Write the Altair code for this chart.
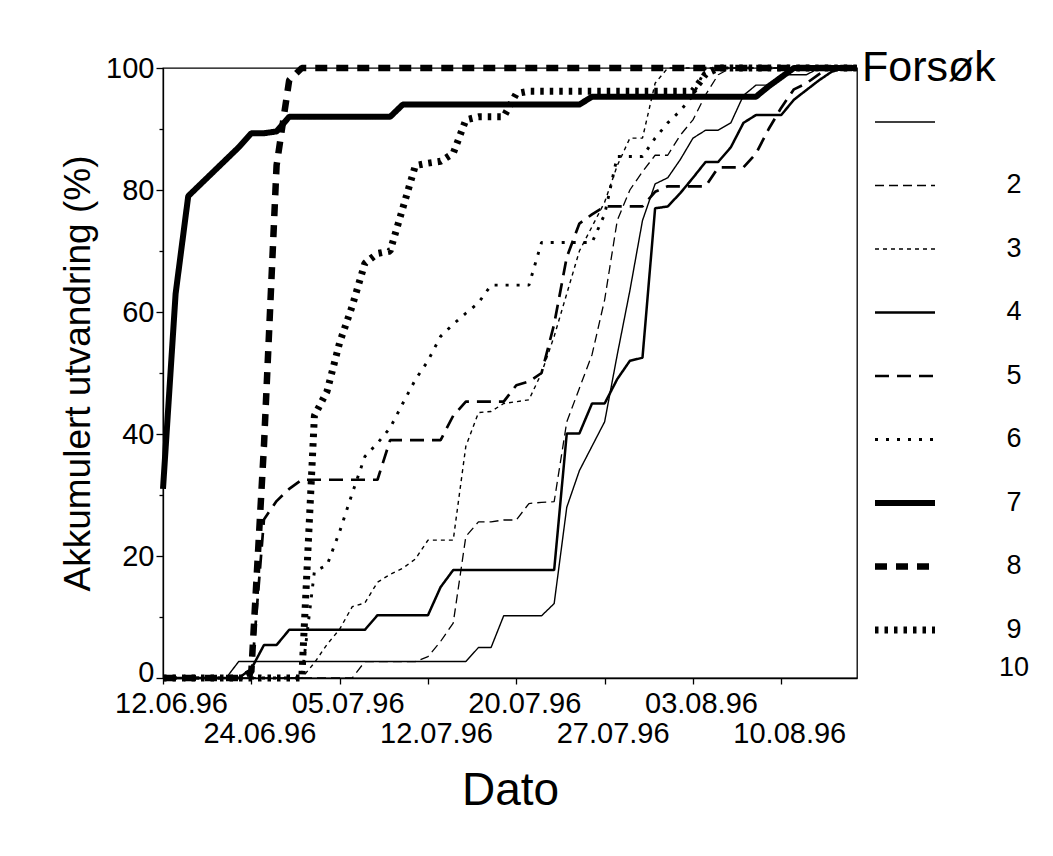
import altair as alt
import pandas as pd

# ---- data ----------------------------------------------------------------
# x: sampling occasion number (equally spaced categories on the original axis)
sample_index = list(range(56))
tick_index = [0, 7, 14, 21, 28, 35, 42, 49]
tick_labels = ["12.06.96", "24.06.96", "05.07.96", "12.07.96",
               "20.07.96", "27.07.96", "03.08.96", "10.08.96"]

series_names = ["2", "3", "4", "5", "6", "7", "8", "9", "10"]

forsok_2 = [0, 0, 0, 0, 0, 0, 2.7, 2.7, 2.7, 2.7, 2.7, 2.7, 2.7, 2.7,
            2.7, 2.7, 2.7, 2.7, 2.7, 2.7, 2.7, 2.7, 2.7, 2.7, 2.7, 5, 5, 10.2,
            10.2, 10.2, 10.2, 12.2, 28, 34, 38, 42, 53, 63.5, 75, 81, 82, 85,
            88.5, 89.8, 89.8, 91, 95.5, 97.2, 97.2, 98.9, 98.9, 98.9, 100, 100, 100, 100]
forsok_3 = [0, 0, 0, 0, 0, 0, 0, 0, 0, 0, 0, 0, 0, 0,
            0, 0, 2.7, 2.7, 2.7, 2.7, 2.7, 3.5, 6, 9, 23.2, 25.6, 25.6, 25.9,
            25.9, 28.6, 28.8, 28.9, 42, 47.5, 53, 62, 75, 80, 83, 85.7, 85.7, 89,
            91.5, 95.6, 98.9, 100, 100, 100, 100, 100, 100, 100, 100, 100, 100, 100]
forsok_4 = [0, 0, 0, 0, 0, 0, 0, 0, 0, 0, 0, 0, 2.5, 5.5,
            8, 11.7, 12.3, 15.7, 17, 18, 19.5, 22.6, 22.6, 22.6, 38, 43.5, 43.7, 45,
            45.3, 45.6, 50, 56, 63, 70, 74, 78, 84, 88.5, 88.5, 97.5, 100, 100,
            100, 100, 100, 100, 100, 100, 100, 100, 100, 100, 100, 100, 100, 100]
forsok_5 = [0, 0, 0, 0, 0, 0, 0, 1.5, 5.4, 5.4, 7.9, 7.9, 7.9, 7.9,
            7.9, 7.9, 7.9, 10.3, 10.3, 10.3, 10.3, 10.3, 14.9, 17.7, 17.7, 17.7, 17.7, 17.7,
            17.7, 17.7, 17.7, 17.7, 40.1, 40.1, 45, 45, 49, 52, 52.5, 77, 77.3, 79.5,
            82, 84.6, 84.6, 87, 91, 92.3, 92.3, 92.3, 94.8, 96.4, 98, 99.4, 100, 100]
forsok_6 = [0, 0, 0, 0, 0, 0, 0, 0, 26, 29, 31, 32.5, 32.5, 32.5,
            32.5, 32.5, 32.5, 32.5, 39, 39, 39, 39, 39, 43, 45.3, 45.3, 45.3, 45.3,
            48, 48.6, 50, 58, 69, 74.5, 76, 77.3, 77.3, 77.3, 77.3, 79.7, 80.6, 80.6,
            80.6, 80.6, 83.7, 83.7, 83.7, 86, 90, 93.5, 96.5, 97.5, 99, 100, 100, 100]
forsok_7 = [0, 0, 0, 0, 0, 0, 0, 0, 0, 0, 0, 0, 17.5, 18.5,
            24, 30.3, 36.3, 38.5, 41, 45, 48.9, 52, 56, 58, 59.8, 61.5, 64.4, 64.4,
            64.4, 64.4, 71.4, 71.4, 71.4, 71.4, 71.4, 76, 85.5, 85.5, 85.5, 88.5, 91, 93,
            95.5, 100, 100, 100, 100, 100, 100, 100, 100, 100, 100, 100, 100, 100]
forsok_8 = [31, 63, 79, 81, 83, 85, 87, 89.3, 89.3, 89.6, 92, 92, 92, 92,
            92, 92, 92, 92, 92, 94, 94, 94, 94, 94, 94, 94, 94, 94,
            94, 94, 94, 94, 94, 94, 95.3, 95.3, 95.3, 95.3, 95.3, 95.3, 95.3, 95.3,
            95.3, 95.3, 95.3, 95.3, 95.3, 95.3, 97, 98.5, 100, 100, 100, 100, 100, 100]
forsok_9 = [0, 0, 0, 0, 0, 0, 0, 1, 38, 84, 98, 100, 100, 100,
            100, 100, 100, 100, 100, 100, 100, 100, 100, 100, 100, 100, 100, 100,
            100, 100, 100, 100, 100, 100, 100, 100, 100, 100, 100, 100, 100, 100,
            100, 100, 100, 100, 100, 100, 100, 100, 100, 100, 100, 100, 100, 100]
forsok_10 = [0, 0, 0, 0, 0, 0, 0, 0, 0, 0, 0, 0, 43, 47,
             55, 61, 68, 69.6, 70, 77, 84, 84.4, 84.7, 86, 91.5, 92, 92, 92,
             95.8, 96.2, 96.2, 96.2, 96.2, 96.2, 96.2, 96.2, 96.2, 96.2, 96.2, 96.2, 96.2, 96.2,
             96.2, 99, 100, 100, 100, 100, 100, 100, 100, 100, 100, 100, 100, 100]

series_values = [forsok_2, forsok_3, forsok_4, forsok_5, forsok_6,
                 forsok_7, forsok_8, forsok_9, forsok_10]

# ---- styles -----------------------------------------------------------------
stroke_widths = [1.4, 1.3, 1.4, 2.5, 2.7, 2.9, 6, 6.5, 7]
stroke_dashes = [[1, 0], [9, 5], [4, 4], [1, 0], [14, 8], [3, 8],
                 [1, 0], [12, 9], [3.5, 6]]

FONT = "Liberation Sans"

rows = []
for name, vals in zip(series_names, series_values):
    for i, v in zip(sample_index, vals):
        rows.append({"prove": i, "andel": v, "forsok": name})
df = pd.DataFrame(rows)

dash_scale = alt.Scale(domain=series_names, range=stroke_dashes)
width_scale = alt.Scale(type="ordinal", domain=series_names, range=stroke_widths)

idx_js = "[" + ",".join(str(t) for t in tick_index) + "]"
lab_js = "[" + ",".join("'" + t + "'" for t in tick_labels) + "]"
pos = f"indexof({idx_js}, datum.value)"
x_label_expr = (f"{pos} % 2 == 0 ? [{lab_js}[{pos}], ''] : ['', {lab_js}[{pos}]]")

main = alt.Chart(df).mark_line(color="black", strokeCap="butt", strokeJoin="bevel").encode(
    x=alt.X("prove:Q",
            scale=alt.Scale(domain=[0, 55], nice=False, zero=False),
            axis=alt.Axis(values=tick_index, labelExpr=x_label_expr,
                          labelOverlap=False, labelFlush=False, labelOffset=8,
                          labelLineHeight=30, labelFontSize=29, labelPadding=5,
                          tickSize=6, grid=False, title="Dato",
                          titleFontSize=46, titlePadding=20)),
    y=alt.Y("andel:Q",
            scale=alt.Scale(domain=[0, 100], nice=False),
            axis=alt.Axis(values=[0, 10, 20, 30, 40, 50, 60, 70, 80, 90, 100],
                          labelExpr="datum.value % 20 == 0 ? datum.label : ''",
                          tickSize={"condition": {"test": "datum.value % 20 == 0", "value": 7}, "value": 4},
                          labelOffset={"condition": {"test": "datum.value == 0", "value": -6}, "value": 0},
                          labelFontSize=29, labelPadding=2, grid=False,
                          title="Akkumulert utvandring (%)",
                          titleFontSize=37, titlePadding=8)),
    detail="forsok:N",
    strokeDash=alt.StrokeDash("forsok:N", scale=dash_scale, legend=None),
    strokeWidth=alt.StrokeWidth("forsok:O", scale=width_scale, legend=None),
).properties(width=694, height=610)

# ---- legend drawn as in the original (symbols one row above their labels) ---
legend_df = pd.DataFrame({"forsok": series_names, "rad": list(range(len(series_names)))})
ly = alt.Scale(domain=[-0.85, 8.756], reverse=True, nice=False, zero=False)

sym = alt.Chart(legend_df).mark_rule(color="black", strokeCap="butt").encode(
    x=alt.value(1), x2=alt.value(61),
    y=alt.Y("rad:Q", scale=ly, axis=None),
    strokeDash=alt.StrokeDash("forsok:N", scale=dash_scale, legend=None),
    strokeWidth=alt.StrokeWidth("forsok:O", scale=width_scale, legend=None),
)
lab = alt.Chart(legend_df).transform_calculate(rad2="min(datum.rad + 1, 8.6)").mark_text(
    font=FONT, fontSize=27, color="black", align="center", baseline="middle"
).encode(
    x=alt.value(140),
    y=alt.Y("rad2:Q", scale=ly, axis=None),
    text="forsok:N",
)
ttl = alt.Chart(pd.DataFrame({"t": ["Forsøk"]})).mark_text(
    font=FONT, fontSize=43, color="black", align="left", baseline="middle"
).encode(x=alt.value(-12), y=alt.value(0), text="t:N")

legend = alt.layer(sym, lab, ttl).properties(
    width=170, height=610, view=alt.ViewBackground(strokeOpacity=0))

chart = alt.hconcat(main, legend, spacing=0).properties(
    padding={"left": 50, "top": 39, "right": 0, "bottom": 0},
    background="white"
).configure_view(stroke="black", strokeWidth=1.3).configure_axis(
    domainColor="black", domainWidth=1.3, tickColor="black", tickWidth=1.3,
    labelColor="black", titleColor="black", labelFont=FONT, titleFont=FONT,
    titleFontWeight="normal"
)

chart.save("out.html", embed_options={"renderer": "svg", "actions": False})
